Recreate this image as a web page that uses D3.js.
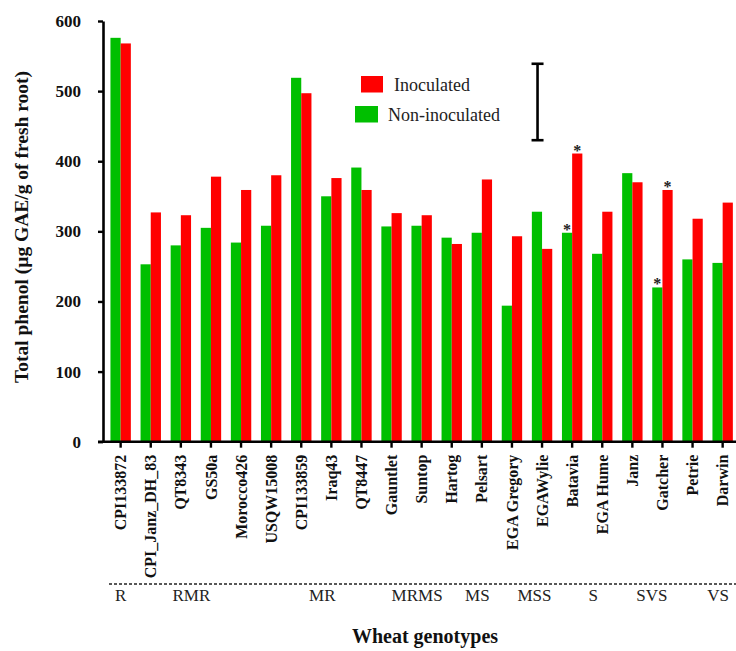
<!DOCTYPE html>
<html>
<head>
<meta charset="utf-8">
<script src="https://cdn.jsdelivr.net/npm/d3@7"></script>
<style>
  body { margin: 0; background: #fff; }
  svg { display: block; font-family: "Liberation Serif", "Times New Roman", serif; }
</style>
</head>
<body>
<svg id="chart" width="736" height="651"></svg>
<script>
// wheat genotypes along the x axis
const genotypes = ['CPI133872', 'CPI_Janz_DH_83', 'QT8343', 'GS50a', 'Morocco426', 'USQW15008',
  'CPI133859', 'Iraq43', 'QT8447', 'Gauntlet', 'Suntop', 'Hartog', 'Pelsart', 'EGA Gregory',
  'EGAWylie', 'Batavia', 'EGA Hume', 'Janz', 'Gatcher', 'Petrie', 'Darwin'];

// total phenol, µg GAE/g of fresh root
const nonInoculated = [576, 253, 280, 305, 284, 308, 519, 350, 391, 307, 308, 291, 298, 194, 328, 298, 268, 383, 220, 260, 255];
const inoculated = [568, 327, 323, 378, 359, 380, 497, 376, 359, 326, 323, 282, 374, 293, 275, 411, 328, 370, 359, 318, 341];

// significant differences marked with *
const starNon = ['Batavia', 'Gatcher'];
const starIno = ['Batavia', 'Gatcher'];

// resistance classes under the axis and the genotype index they sit at
const classLabels = ['R', 'RMR', 'MR', 'MRMS', 'MS', 'MSS', 'S', 'SVS', 'VS'];
const classAt = [0, 2.35, 6.7, 9.85, 11.85, 13.75, 15.7, 17.65, 19.85];

// LSD bar
const lsdLow = 430, lsdHigh = 539, lsdAt = 13.85;

const yTicks = [0, 100, 200, 300, 400, 500, 600];

const green = '#00bf00', red = '#ff0000';

const svg = d3.select('#chart');

const x = d3.scaleBand()
  .domain(genotypes)
  .range([105.6, 737.7]);
const y = d3.scaleLinear()
  .domain([0, 600])
  .range([441.7, 21]);

const barW = 10.2;
const cx = i => x(genotypes[i]) + x.bandwidth() / 2;

// bars
svg.append('g').selectAll('rect')
  .data(nonInoculated)
  .join('rect')
  .attr('x', (d, i) => cx(i) - barW)
  .attr('y', d => y(d))
  .attr('width', barW)
  .attr('height', d => y(0) - y(d))
  .attr('fill', green);

svg.append('g').selectAll('rect')
  .data(inoculated)
  .join('rect')
  .attr('x', (d, i) => cx(i))
  .attr('y', d => y(d))
  .attr('width', barW)
  .attr('height', d => y(0) - y(d))
  .attr('fill', red);

// asterisks
const stars = [];
starNon.forEach(g => { const i = genotypes.indexOf(g); stars.push({ x: cx(i) - barW / 2, v: nonInoculated[i] }); });
starIno.forEach(g => { const i = genotypes.indexOf(g); stars.push({ x: cx(i) + barW / 2, v: inoculated[i] }); });
svg.append('g').selectAll('text')
  .data(stars)
  .join('text')
  .attr('x', d => d.x)
  .attr('y', d => y(d.v) + 2)
  .attr('text-anchor', 'middle')
  .style('font-size', '16px')
  .style('font-weight', 'bold')
  .attr('fill', '#222')
  .text('*');

// y axis
const yAxis = svg.append('g')
  .attr('transform', 'translate(103,0)')
  .call(d3.axisLeft(y).tickValues(yTicks).tickSize(5).tickPadding(17).tickSizeOuter(0));
yAxis.select('.domain').attr('stroke', '#000').attr('stroke-width', 2.6);
yAxis.selectAll('.tick line').attr('stroke-width', 2.4);
yAxis.selectAll('.tick text')
  .style('font-family', '"Liberation Serif", serif')
  .style('font-size', '17px')
  .style('font-weight', 'bold')
  .attr('fill', '#111');

// x axis
const xAxis = svg.append('g')
  .attr('transform', 'translate(0,' + y(0) + ')')
  .call(d3.axisBottom(x).tickSize(6).tickSizeOuter(0));
xAxis.select('.domain').attr('d', 'M98,0H736').attr('stroke', '#000').attr('stroke-width', 2.6);
xAxis.selectAll('.tick line').attr('stroke-width', 2.4);
xAxis.selectAll('.tick text')
  .attr('transform', 'rotate(-90)')
  .attr('x', -13)
  .attr('y', 0)
  .attr('dy', '0.35em')
  .attr('text-anchor', 'end')
  .style('font-family', '"Liberation Serif", serif')
  .style('font-size', '16px')
  .style('font-weight', 'bold')
  .attr('fill', '#111');

// LSD bar
const lx = x(genotypes[0]) + x.step() * (lsdAt + 0.5);
const lsd = svg.append('g').attr('stroke', '#000').attr('stroke-width', 2.6);
lsd.append('line').attr('x1', lx).attr('x2', lx).attr('y1', y(lsdHigh)).attr('y2', y(lsdLow));
lsd.append('line').attr('x1', lx - 6).attr('x2', lx + 6).attr('y1', y(lsdHigh)).attr('y2', y(lsdHigh));
lsd.append('line').attr('x1', lx - 6).attr('x2', lx + 6).attr('y1', y(lsdLow)).attr('y2', y(lsdLow));

// legend
const legend = svg.append('g');
legend.append('rect').attr('x', 361).attr('y', 76).attr('width', 22).attr('height', 16.5).attr('fill', red);
legend.append('text').attr('x', 394).attr('y', 90.5).style('font-size', '18px').attr('fill', '#222').text('Inoculated');
legend.append('rect').attr('x', 355).attr('y', 106).attr('width', 23).attr('height', 16.5).attr('fill', green);
legend.append('text').attr('x', 388).attr('y', 121).style('font-size', '18px').attr('fill', '#222').text('Non-inoculated');

// resistance classes
svg.append('line')
  .attr('x1', 109).attr('x2', 736)
  .attr('y1', 584).attr('y2', 584)
  .attr('stroke', '#222')
  .attr('stroke-width', 1.4)
  .attr('stroke-dasharray', '3,2');
svg.append('g').selectAll('text')
  .data(classLabels)
  .join('text')
  .attr('x', (d, i) => x(genotypes[0]) + x.step() * (classAt[i] + 0.5))
  .attr('y', 601)
  .attr('text-anchor', 'middle')
  .style('font-size', '17px')
  .attr('fill', '#222')
  .text(d => d);

// axis titles
svg.append('text')
  .attr('transform', 'translate(28,227) rotate(-90)')
  .attr('text-anchor', 'middle')
  .style('font-size', '19.5px')
  .style('font-weight', 'bold')
  .attr('fill', '#111')
  .text('Total phenol (µg GAE/g of fresh root)');

svg.append('text')
  .attr('x', 425)
  .attr('y', 643)
  .attr('text-anchor', 'middle')
  .style('font-size', '20px')
  .style('font-weight', 'bold')
  .attr('fill', '#111')
  .text('Wheat genotypes');
</script>
</body>
</html>
